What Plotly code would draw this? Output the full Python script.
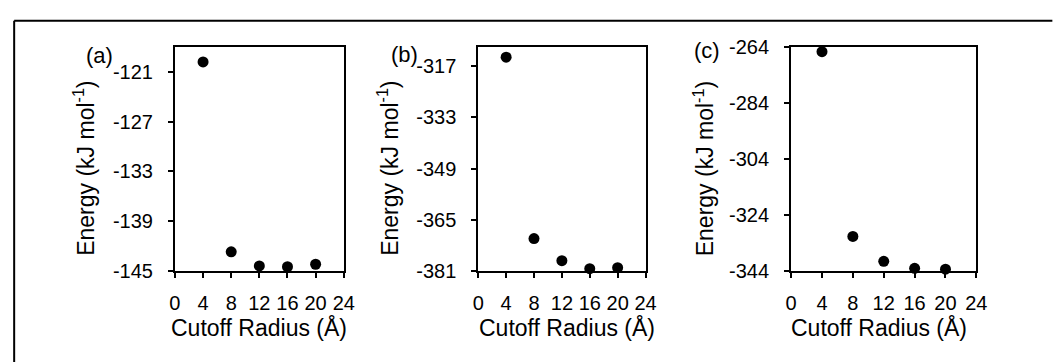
import plotly.graph_objects as go

# ---- data ----
cutoff_radius = [4, 8, 12, 16, 20]
energy_a = [-119.8, -142.7, -144.4, -144.5, -144.2]
energy_b = [-314.2, -370.9, -377.8, -380.3, -380.0]
energy_c = [-265.7, -331.7, -340.6, -343.1, -343.4]

x_ticks = [0, 4, 8, 12, 16, 20, 24]
y_ticks_a = [-145, -139, -133, -127, -121]
y_ticks_b = [-381, -365, -349, -333, -317]
y_ticks_c = [-344, -324, -304, -284, -264]
y_range_a = [-145, -118]
y_range_b = [-381, -311]
y_range_c = [-344, -264]
panel_labels = ["(a)", "(b)", "(c)"]
x_title = "Cutoff Radius (Å)"
y_title = "Energy (kJ mol<sup>-1</sup>)"

W, H = 1053, 362
FONT = "Liberation Sans, Arial, sans-serif"

def px_x(p):
    return p / W

def px_y(p):
    return 1 - p / H

# pixel geometry of the panels
panels_px = [(171.7, 343.3), (480.0, 650.0), (798.0, 986.3)]
plot_top, plot_bottom = 38.3, 276.7

fig = go.Figure()

series = [energy_a, energy_b, energy_c]
yticks = [y_ticks_a, y_ticks_b, y_ticks_c]
yranges = [y_range_a, y_range_b, y_range_c]

for i in range(3):
    sfx = "" if i == 0 else str(i + 1)
    fig.add_trace(go.Scatter(
        x=cutoff_radius, y=series[i], mode="markers",
        marker=dict(color="black", size=11),
        xaxis="x" + sfx, yaxis="y" + sfx, showlegend=False, cliponaxis=False,
    ))
    axis_common = dict(
        showline=True, linecolor="black", linewidth=2, mirror=True,
        ticks="outside", ticklen=5, tickwidth=2, tickcolor="black",
        showgrid=False, zeroline=False,
        tickfont=dict(family=FONT, size=20, color="black"),
    )
    xl, xr = panels_px[i]
    fig.update_layout(**{
        "xaxis" + sfx: dict(
            domain=[px_x(xl), px_x(xr)], range=[0, 24], tickvals=x_ticks,
            ticktext=[str(v) for v in x_ticks],
            anchor="y" + sfx, ticklabelstandoff=8, **axis_common),
        "yaxis" + sfx: dict(
            domain=[px_y(plot_bottom), px_y(plot_top)], range=yranges[i],
            tickvals=yticks[i], ticktext=[str(v) for v in yticks[i]],
            anchor="x" + sfx, ticklabelstandoff=11,
            **axis_common),
    })

annotations = []
ytitle_x = [79.8, 388.8, 709.4]
xtitle_x = [257.5, 570.0, 887.0]
label_pos = [(95, 47.5), (405, 46.7), (712, 42.5)]
for i in range(3):
    annotations.append(dict(
        text=y_title, x=px_x(ytitle_x[i]), y=px_y(167.5), xref="paper", yref="paper",
        xanchor="center", yanchor="middle", textangle=-90, showarrow=False,
        font=dict(family=FONT, size=23, color="black")))
    annotations.append(dict(
        text=x_title, x=px_x(xtitle_x[i]), y=px_y(337.5), xref="paper", yref="paper",
        xanchor="center", yanchor="middle", showarrow=False,
        font=dict(family=FONT, size=23, color="black")))
    lx, ly = label_pos[i]
    annotations.append(dict(
        text=panel_labels[i], x=px_x(lx), y=px_y(ly), xref="paper", yref="paper",
        xanchor="center", yanchor="middle", showarrow=False,
        font=dict(family=FONT, size=22, color="black")))

shapes = [
    dict(type="line", xref="paper", yref="paper", x0=px_x(8.3), x1=1.01,
         y0=px_y(10.3), y1=px_y(10.3), line=dict(color="black", width=2)),
    dict(type="line", xref="paper", yref="paper", x0=px_x(8.3), x1=px_x(8.3),
         y0=px_y(10.3), y1=-0.05, line=dict(color="black", width=2)),
]

fig.update_layout(
    width=W, height=H, margin=dict(l=0, r=0, t=0, b=0),
    paper_bgcolor="white", plot_bgcolor="white",
    annotations=annotations, shapes=shapes,
    font=dict(family=FONT, color="black"),
)

fig.write_html("out.html")
